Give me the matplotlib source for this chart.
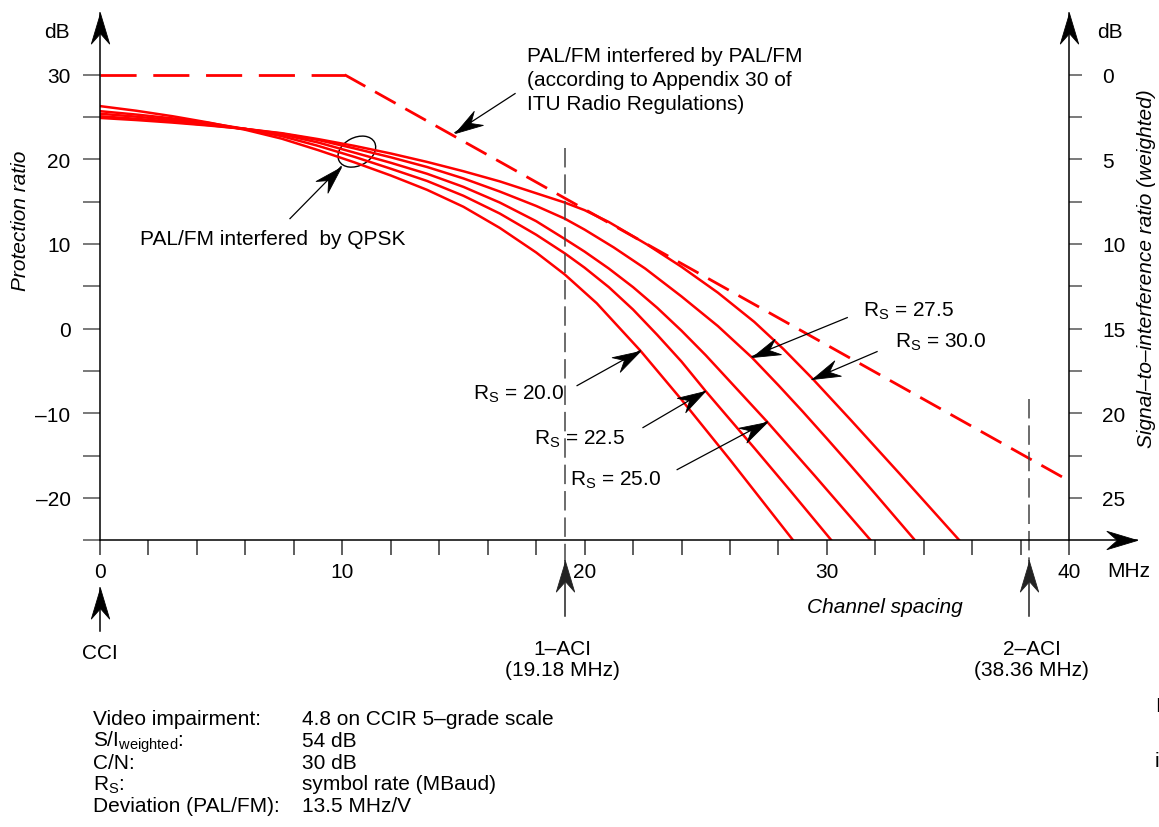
import numpy as np
import matplotlib
matplotlib.use('Agg')
from matplotlib import pyplot as plt
from matplotlib.path import Path
from matplotlib.markers import MarkerStyle
from matplotlib.patches import Ellipse
import matplotlib.transforms as mtransforms

plt.rcParams['font.family'] = ['Liberation Sans', 'DejaVu Sans']
plt.rcParams['font.size'] = 15
plt.rcParams['mathtext.fontset'] = 'custom'
plt.rcParams['mathtext.rm'] = 'Liberation Sans'
plt.rcParams['mathtext.it'] = 'Liberation Sans:italic'
plt.rcParams['mathtext.bf'] = 'Liberation Sans:bold'
plt.rcParams['lines.scale_dashes'] = False

# PAL/FM interfered by QPSK, protection ratio (dB) vs channel spacing (MHz)
rs20_x = [0, 1.5, 3, 4.5, 6, 7.5, 9, 10.5, 12, 13.5, 15, 16.5, 18, 19.18, 20.5, 22.3, 24, 26, 28.6]
rs20_y = [26.3, 25.75, 25.1, 24.35, 23.5, 22.45, 21.1, 19.65, 18.1, 16.4, 14.4, 11.9, 9.0, 6.4,
          3.0, -2.6, -8.4, -15.5, -25]

rs225_x = [0, 1.5, 3, 4.5, 6, 7.5, 9, 10.5, 12, 13.5, 15, 16.5, 18, 19.18, 20, 21, 22, 23, 24,
           24.97, 27, 28.5, 30.18]
rs225_y = [25.7, 25.3, 24.85, 24.3, 23.6, 22.75, 21.6, 20.3, 18.9, 17.45, 15.7, 13.6, 11.1, 8.9,
           7.2, 4.9, 2.25, -0.75, -3.9, -7.3, -14.1, -19.2, -25]

rs25_x = [0, 1.5, 3, 4.5, 6, 7.5, 9, 10.5, 12, 13.5, 15, 16.5, 18, 19.18, 20, 21, 22, 23, 24, 25,
          26, 27.53, 29.5, 31.8]
rs25_y = [25.4, 25.05, 24.65, 24.15, 23.6, 22.95, 22.0, 20.8, 19.6, 18.3, 16.75, 14.9, 12.7, 10.6,
          9.1, 7.1, 4.9, 2.45, -0.25, -3.15, -6.25, -11.0, -17.4, -25]

rs275_x = [0, 1.5, 3, 4.5, 6, 7.5, 9, 10.5, 12, 13.5, 15, 16.5, 18, 19.18, 20, 21.2, 22.5, 24,
           25.5, 26.9, 28, 29, 30, 31, 32, 33.6]
rs275_y = [25.1, 24.8, 24.45, 24.05, 23.6, 23.05, 22.3, 21.3, 20.25, 19.1, 17.75, 16.2, 14.5, 13.0,
           11.7, 9.6, 7.1, 3.8, 0.3, -3.4, -6.7, -9.8, -13.0, -16.25, -19.55, -24.9]

rs30_x = [0, 1.5, 3, 4.5, 6, 7.5, 9, 10.5, 12, 13.5, 15, 16.5, 18, 19.18, 20, 21, 22.6, 24, 25.5,
          27, 28.2, 29.4, 31, 33, 35.46]
rs30_y = [24.9, 24.65, 24.35, 24.0, 23.6, 23.1, 22.4, 21.6, 20.7, 19.7, 18.6, 17.4, 16.0, 14.9,
          14.0, 12.6, 9.9, 7.3, 4.25, 0.8, -2.4, -5.9, -10.85, -17.15, -25]

# PAL/FM interfered by PAL/FM (Appendix 30)
app30_x = [0, 10.1, 40]
app30_y = [30, 30, -18]

aci_1 = 19.18
aci_2 = 38.36

left_ticks = [30, 20, 10, 0, -10, -20]
left_labels = ['30', '20', '10', '0', '\u201310', '\u201320']
left_minor = [25, 15, 5, -5, -15, -25]
right_labels = ['0', '5', '10', '15', '20', '25']
x_major = [0, 10, 20, 30, 40]
x_minor = [2, 4, 6, 8, 12, 14, 16, 18, 22, 24, 26, 28, 32, 34, 36, 38]

notes_left = ['Video impairment:', r'S/I$_{\mathrm{weighted}}$:', 'C/N:', r'R$_{\mathrm{S}}$:', 'Deviation (PAL/FM):']
notes_right = ['4.8 on CCIR 5\u2013grade scale', '54 dB', '30 dB', 'symbol rate (MBaud)', '13.5 MHz/V']

W, H = 1159, 828
fig = plt.figure(figsize=(W / 100, H / 100), dpi=100)
ax = fig.add_axes([100 / W, (H - 541.1) / H, 42.8 * 24.23 / W, 62.3 * 8.46 / H])
ax.set_xlim(0, 42.8)
ax.set_ylim(-25, 37.3)
ax.patch.set_visible(False)

for s in ['top', 'right']:
    ax.spines[s].set_visible(False)
ax.spines['left'].set_linewidth(1.1)
ax.spines['bottom'].set_linewidth(1.1)

ax.set_yticks(left_ticks)
ax.set_yticklabels(left_labels)
ax.set_yticks(left_minor, minor=True)
ax.tick_params(axis='y', which='both', length=12.2, width=1.1, color='#555555', pad=9)
ax.set_xticks(x_major)
ax.set_xticks(x_minor, minor=True)
ax.tick_params(axis='x', which='both', length=10.8, width=1.1, color='#333333', pad=5)
ax.xaxis.get_major_ticks()[0].tick1line.set_color('blue')
ax.yaxis.get_minor_ticks()[5].tick1line.set_color('blue')

ax2 = ax.twinx()
ax2.set_ylim(ax.get_ylim())
for s in ['top', 'left', 'bottom']:
    ax2.spines[s].set_visible(False)
ax2.spines['right'].set_position(('data', 40))
ax2.spines['right'].set_bounds(-25, 37.3)
ax2.spines['right'].set_linewidth(1.1)
ax2.set_yticks(left_ticks)
ax2.set_yticklabels(right_labels)
ax2.set_yticks([25, 15, 5, -5, -15], minor=True)
ax2.tick_params(axis='y', which='both', length=9.6, width=1.1, color='#555555', pad=14)

# curves
for xs, ys in [(rs20_x, rs20_y), (rs225_x, rs225_y), (rs25_x, rs25_y),
               (rs275_x, rs275_y), (rs30_x, rs30_y)]:
    ax.plot(xs, ys, color='#ff0000', lw=1.8, solid_joinstyle='round')
ax.plot(app30_x[:2], app30_y[:2], color='#ff0000', lw=2.0, dashes=(26, 12))
ax.plot(app30_x[1:], app30_y[1:], color='#ff0000', lw=2.0, dashes=(17, 8))

ax.plot([aci_1, aci_1], [21.3, -27.5], color='#444444', lw=1.1, dashes=(14, 5), clip_on=False)
ax.plot([aci_2, aci_2], [-8.3, -27.5], color='#444444', lw=1.1, dashes=(14, 5), clip_on=False)

# stealth arrow heads
head = Path([(0, 0), (0.3, -1.0), (0, -0.66), (-0.3, -1.0), (0, 0)],
            [Path.MOVETO, Path.LINETO, Path.LINETO, Path.LINETO, Path.CLOSEPOLY])


def arrow(tail, tip, lw=0.9, color='black', size=40, line=True):
    p0 = ax.transData.transform(tail)
    p1 = ax.transData.transform(tip)
    ang = np.degrees(np.arctan2(p1[1] - p0[1], p1[0] - p0[0]))
    if line:
        ax.plot([tail[0], tip[0]], [tail[1], tip[1]], color=color, lw=lw, clip_on=False)
    m = MarkerStyle(head, transform=mtransforms.Affine2D().rotate_deg(ang - 90))
    ax.plot([tip[0]], [tip[1]], marker=m, ms=size, color=color, mew=0.6,
            linestyle='none', clip_on=False)


# axis arrows
arrow((0, 30), (0, 37.3), line=False, size=44)
arrow((40, 30), (40, 37.3), line=False, size=44)
arrow((40, -25), (42.8, -25), line=False, size=44)

# CCI / ACI markers
arrow((0, -35.7), (0, -30.7), lw=1.1, size=44)
arrow((aci_1, -34.0), (aci_1, -27.5), lw=1.1, color='#222222', size=44)
arrow((aci_2, -34.0), (aci_2, -27.5), lw=1.1, color='#222222', size=44)

# annotations
for i, line in enumerate(['PAL/FM interfered by PAL/FM', '(according to Appendix 30 of',
                          'ITU Radio Regulations)']):
    ax.text(17.63, 32.3 - 2.85 * i, line, ha='left', va='center')
arrow((17.13, 27.78), (14.65, 23.17))

ax.text(1.65, 10.64, 'PAL/FM interfered  by QPSK', ha='left', va='center')
arrow((7.84, 13.0), (9.95, 19.15))
ell = Ellipse((0, 0), width=0.40, height=0.28, angle=28, fill=False, ec='black', lw=1.0,
              transform=fig.dpi_scale_trans + mtransforms.ScaledTranslation(10.6, 20.92, ax.transData))
ax.add_patch(ell)

rs_labels = [(15.4, -7.68, '20.0', (19.69, -6.74), (22.29, -2.6)),
             (17.92, -13.0, '22.5', (22.41, -11.7), (24.97, -7.4)),
             (19.4, -17.85, '25.0', (23.82, -16.67), (27.53, -11.0)),
             (31.5, 2.13, '27.5', (30.84, 1.3), (26.91, -3.3)),
             (32.82, -1.54, '30.0', (32.07, -2.72), (29.39, -6.0))]
for tx, ty, val, tail, tip in rs_labels:
    ax.text(tx, ty, r'R$_{\mathrm{S}}$ = ' + val, ha='left', va='center')
    arrow(tail, tip)

ax.text(-1.24, 34.5, 'dB', ha='right', va='baseline')
ax.text(41.16, 34.5, 'dB', ha='left', va='baseline')
ax.text(41.57, -29.3, 'MHz', ha='left', va='baseline')
ax.text(32.4, -33.45, 'Channel spacing', ha='center', va='baseline', style='italic')
ax.text(-3.3, 12.8, 'Protection ratio', rotation=90, ha='center', va='center', style='italic')
ax.text(43.2, 7.2, 'Signal\u2013to\u2013interference ratio (weighted)', rotation=90,
        ha='center', va='center', style='italic', clip_on=False)
ax.text(0, -38.9, 'CCI', ha='center', va='baseline')
ax.text(aci_1 - 0.1, -38.5, '1\u2013ACI', ha='center', va='baseline')
ax.text(aci_1 - 0.1, -41.0, '(19.18 MHz)', ha='center', va='baseline')
ax.text(aci_2 + 0.1, -38.5, '2\u2013ACI', ha='center', va='baseline')
ax.text(aci_2 + 0.1, -41.0, '(38.36 MHz)', ha='center', va='baseline')

# notes block
for i, (a, b) in enumerate(zip(notes_left, notes_right)):
    yb = 1 - (725 + 21.8 * i) / H
    fig.text(93 / W, yb, a, ha='left', va='baseline')
    fig.text(302 / W, yb, b, ha='left', va='baseline')

# cropped characters at right edge
fig.text(1155 / W, 1 - 712 / H, 'I', ha='left', va='baseline')
fig.text(1155 / W, 1 - 767 / H, 'i', ha='left', va='baseline')

fig.savefig('out.png', dpi=100)
